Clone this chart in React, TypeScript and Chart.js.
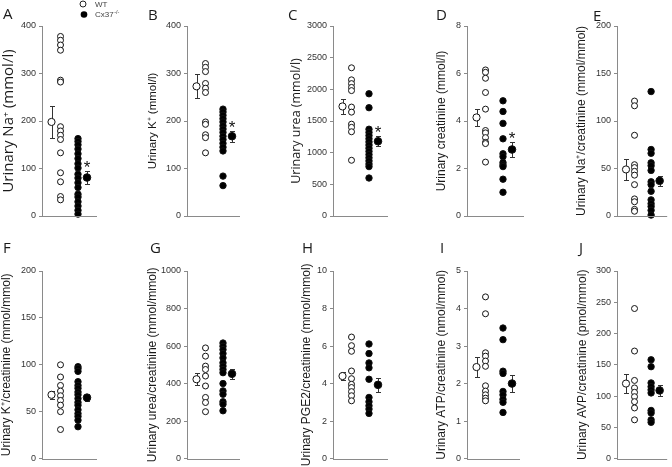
import React, { useEffect, useRef } from "react";
import { Chart, registerables } from "chart.js";
Chart.register(...registerables);

const W = 672;
const H = 467;

// ---------- data ----------
const panelLetters = ["A", "B", "C", "D", "E", "F", "G", "H", "I", "J"];
const yTitles = [
  "Urinary Na\u207A (mmol/l)",
  "Urinary K\u207A (mmol/l)",
  "Urinary urea (mmol/l)",
  "Urinary creatinine (mmol/l)",
  "Urinary Na\u207A/creatinine (mmol/mmol)",
  "Urinary K\u207A/creatinine (mmol/mmol)",
  "Urinary urea/creatinine (mmol/mmol)",
  "Urinary PGE2/creatinine (mmol/mmol)",
  "Urinary ATP/creatinine (nmol/mmol)",
  "Urinary AVP/creatinine (pmol/mmol)",
];
const yMax = [400, 400, 3000, 8, 200, 200, 1000, 10, 5, 300];
const yStep = [100, 100, 500, 2, 50, 50, 200, 2, 1, 50];
const significant = [true, true, true, true, false, false, false, false, false, false];
const legendLabels = ["WT", "Cx37"];

const wtA = [378, 370, 360, 349, 286, 282, 188, 179, 170, 161, 133, 91, 72, 41, 34];
const koA = [163, 157, 150, 141, 131, 121, 110, 101, 88, 80, 70, 60, 46, 40, 30, 21, 12, 4];
const meanA = [198, 81];
const semA = [33, 13];

const wtB = [321, 313, 304, 279, 269, 260, 198, 193, 171, 165, 133];
const koB = [225, 219, 212, 205, 198, 190, 183, 176, 168, 161, 153, 145, 137, 84, 64];
const meanB = [273, 168];
const semB = [25, 12];

const wtC = [2340, 2150, 2090, 2030, 1980, 1720, 1640, 1450, 1400, 1330, 880];
const koC = [1930, 1710, 1370, 1320, 1270, 1220, 1170, 1120, 1070, 1020, 970, 920, 870, 820, 780, 600];
const meanC = [1730, 1180];
const semC = [120, 80];

const wtD = [6.15, 6.05, 5.8, 5.2, 4.5, 3.6, 3.5, 3.3, 3.1, 3.05, 2.27];
const koD = [4.85, 4.4, 3.9, 3.25, 2.62, 2.5, 2.25, 2.15, 2.08, 1.55, 1.0];
const meanD = [4.15, 2.8];
const semD = [0.36, 0.3];

const wtE = [121, 116, 85, 54, 51, 47, 43, 33, 18, 15, 7, 5];
const koE = [131, 70, 66, 56, 53, 48, 36, 33, 26, 17, 13, 10, 6, 1];
const meanE = [49, 37];
const semE = [11.5, 5.5];

const wtF = [100, 87, 78, 72, 67, 62, 57, 50, 31];
const koF = [98, 96, 93, 82, 78, 75, 71, 68, 64, 60, 57, 52, 48, 45, 41, 34];
const meanF = [68, 65];
const semF = [4.5, 4];

const wtG = [590, 546, 493, 475, 440, 387, 326, 299, 250];
const koG = [616, 599, 581, 560, 537, 511, 493, 475, 458, 400, 361, 343, 303, 290, 255];
const meanG = [423, 452];
const semG = [33, 28];

const wtH = [6.48, 6.02, 5.72, 4.67, 4.26, 3.96, 3.79, 3.57, 3.35, 3.08];
const koH = [6.11, 5.6, 5.1, 4.84, 4.23, 3.26, 3.03, 2.82, 2.64, 2.41];
const meanH = [4.4, 3.93];
const semH = [0.2, 0.37];

const wtI = [4.31, 3.86, 2.82, 2.73, 2.6, 2.46, 1.94, 1.8, 1.7, 1.61, 1.54];
const koI = [3.48, 3.17, 2.33, 2.27, 1.79, 1.7, 1.58, 1.5, 1.23];
const meanI = [2.44, 2.0];
const semI = [0.26, 0.23];

const wtJ = [240, 172, 125, 113, 106, 99, 91, 81, 62];
const koJ = [158, 147, 121, 115, 110, 105, 77, 73, 62, 58];
const meanJ = [120, 109];
const semJ = [15, 9];

const groups = [
  { wt: wtA, ko: koA, mean: meanA, sem: semA },
  { wt: wtB, ko: koB, mean: meanB, sem: semB },
  { wt: wtC, ko: koC, mean: meanC, sem: semC },
  { wt: wtD, ko: koD, mean: meanD, sem: semD },
  { wt: wtE, ko: koE, mean: meanE, sem: semE },
  { wt: wtF, ko: koF, mean: meanF, sem: semF },
  { wt: wtG, ko: koG, mean: meanG, sem: semG },
  { wt: wtH, ko: koH, mean: meanH, sem: semH },
  { wt: wtI, ko: koI, mean: meanI, sem: semI },
  { wt: wtJ, ko: koJ, mean: meanJ, sem: semJ },
];

// ---------- layout ----------
const axisX = [42, 187, 333, 467, 617, 42, 187, 333, 467, 617];
const endX = [97, 240, 388, 524, 670, 97, 240, 388, 520, 670];
const areaTop = [26, 26, 26, 26, 26, 271, 271, 271, 271, 271];
const areaBottom = [216, 216, 216, 216, 216, 460, 460, 460, 460, 460];
const titleCenterX = [9, 153, 296, 442, 582, 7, 153, 307, 442, 583];
const titleFamily = ["'Open Sans'", "'Liberation Sans'", "'Open Sans'", "'Liberation Sans'", "'Liberation Sans'",
  "'Liberation Sans'", "'Liberation Sans'", "'Liberation Sans'", "'Liberation Sans'", "'Liberation Sans'"];
const titleSize = [15, 11.5, 12.5, 12, 12, 12, 12, 12, 12, 12];
const letterX = [3, 148, 288, 436, 593, 3, 150, 302, 440, 579];
const letterY = [19, 20, 20, 20, 21, 253, 253, 253, 253, 253];
// column positions in px from the y axis
const COL_MEAN_WT = 9.5;
const COL_WT = 18.5;
const COL_KO = 36;
const COL_MEAN_KO = 45;

const AXIS_COLOR = "#8a8a8a";

function placeColumn(values: number[], cx: number, pxPerUnit: number) {
  const placed: { x: number; y: number }[] = [];
  const order = values.map((_, i) => i).sort((a, b) => values[b] - values[a]);
  const res: { x: number; y: number }[] = new Array(values.length);
  for (const i of order) {
    const v = values[i];
    const cands = [0, 5.5, -5.5, 11, -11];
    let off = 0;
    for (const c of cands) {
      const ok = placed.every(
        (p) => Math.abs(p.x - c) >= 5 || Math.abs(p.y - v) * pxPerUnit >= 1.0
      );
      if (ok) {
        off = c;
        break;
      }
    }
    placed.push({ x: off, y: v });
    res[i] = { x: cx + off, y: v };
  }
  return res;
}

function Panel({ idx }: { idx: number }) {
  const ref = useRef<HTMLCanvasElement | null>(null);
  useEffect(() => {
    const canvas = ref.current;
    if (!canvas) return;
    const g = groups[idx];
    const top = areaTop[idx];
    const bottom = areaBottom[idx];
    const pxPerUnit = (bottom - top) / yMax[idx];
    const width = endX[idx] - axisX[idx];
    const lineH = titleSize[idx] * 1.2;

    const overlay = {
      id: "overlay" + idx,
      beforeDatasetsDraw(chart: any) {
        const ctx = chart.ctx;
        const xs = chart.scales.x;
        const ys = chart.scales.y;
        const cols = [COL_MEAN_WT, COL_MEAN_KO];
        ctx.save();
        ctx.strokeStyle = "#333";
        ctx.lineWidth = 1;
        for (let k = 0; k < 2; k++) {
          const x = Math.round(xs.getPixelForValue(cols[k])) + 0.5;
          const yu = Math.round(ys.getPixelForValue(g.mean[k] + g.sem[k])) + 0.5;
          const yl = Math.round(ys.getPixelForValue(g.mean[k] - g.sem[k])) + 0.5;
          ctx.beginPath();
          ctx.moveTo(x, yu);
          ctx.lineTo(x, yl);
          ctx.moveTo(x - 2.5, yu);
          ctx.lineTo(x + 2.5, yu);
          ctx.moveTo(x - 2.5, yl);
          ctx.lineTo(x + 2.5, yl);
          ctx.stroke();
        }
        ctx.restore();
      },
      afterDraw(chart: any) {
        const ctx = chart.ctx;
        const xs = chart.scales.x;
        const ys = chart.scales.y;
        const area = chart.chartArea;
        ctx.save();
        // x axis line
        ctx.strokeStyle = AXIS_COLOR;
        ctx.lineWidth = 1;
        const yb = Math.round(area.bottom) + 0.5;
        ctx.beginPath();
        ctx.moveTo(area.left, yb);
        ctx.lineTo(area.right, yb);
        ctx.stroke();
        // significance star
        if (significant[idx]) {
          const x = xs.getPixelForValue(COL_MEAN_KO);
          const yu = ys.getPixelForValue(g.mean[1] + g.sem[1]);
          ctx.fillStyle = "#111";
          ctx.font = "17px 'Liberation Sans'";
          ctx.textAlign = "center";
          ctx.textBaseline = "alphabetic";
          ctx.fillText("*", x, yu + 2);
        }
        // panel letter
        ctx.fillStyle = "#1a1a1a";
        ctx.font = "15px 'Open Sans'";
        ctx.textAlign = "left";
        ctx.textBaseline = "alphabetic";
        ctx.fillText(panelLetters[idx], letterX[idx], letterY[idx]);
        // legend on first panel
        if (idx === 0) {
          ctx.lineWidth = 1;
          ctx.strokeStyle = "#222";
          ctx.fillStyle = "#fff";
          ctx.beginPath();
          ctx.arc(83, 4, 3, 0, Math.PI * 2);
          ctx.fill();
          ctx.stroke();
          ctx.fillStyle = "#000";
          ctx.beginPath();
          ctx.arc(84, 14.5, 3.3, 0, Math.PI * 2);
          ctx.fill();
          ctx.fillStyle = "#444";
          ctx.font = "8px 'Liberation Sans'";
          ctx.textBaseline = "middle";
          ctx.fillText(legendLabels[0], 95, 4.5);
          ctx.fillText(legendLabels[1], 95, 15);
          const w = ctx.measureText(legendLabels[1]).width;
          ctx.font = "5.5px 'Liberation Sans'";
          ctx.fillText("-/-", 95 + w + 0.5, 12);
        }
        ctx.restore();
      },
    };

    const pt = (fill: string, r: number) => ({
      pointRadius: r,
      pointHoverRadius: r,
      pointBackgroundColor: fill,
      pointBorderColor: "#111",
      pointBorderWidth: 1,
      pointStyle: "circle",
      showLine: false,
      clip: false as any,
    });

    const chart = new Chart(canvas, {
      type: "scatter",
      data: {
        datasets: [
          { data: placeColumn(g.wt, COL_WT, pxPerUnit), ...pt("#ffffff", 3) },
          { data: placeColumn(g.ko, COL_KO, pxPerUnit), ...pt("#000000", 3.2) },
          { data: [{ x: COL_MEAN_WT, y: g.mean[0] }], ...pt("#ffffff", 3.6) },
          { data: [{ x: COL_MEAN_KO, y: g.mean[1] }], ...pt("#000000", 3.8) },
        ],
      },
      options: {
        animation: false,
        responsive: false,
        maintainAspectRatio: false,
        events: [],
        layout: {
          padding: { left: 0, top: top, right: W - endX[idx], bottom: H - bottom },
        },
        plugins: { legend: { display: false }, tooltip: { enabled: false }, title: { display: false } },
        scales: {
          x: { type: "linear", display: false, min: 0, max: width },
          y: {
            type: "linear",
            position: "left",
            min: 0,
            max: yMax[idx],
            afterFit: (s: any) => {
              s.width = axisX[idx];
            },
            ticks: {
              stepSize: yStep[idx],
              color: "#333",
              padding: 3,
              font: { family: "'Liberation Sans'", size: 9 },
              callback: (v: any) => String(v),
            },
            grid: { drawOnChartArea: false, drawTicks: true, tickLength: 3, color: AXIS_COLOR },
            border: { display: true, color: AXIS_COLOR, width: 1 },
            title: {
              display: true,
              text: yTitles[idx],
              color: "#1a1a1a",
              font: { family: titleFamily[idx], size: titleSize[idx] },
              padding: { top: titleCenterX[idx] - lineH / 2, bottom: 0 },
            },
          },
        },
      },
      plugins: [overlay],
    } as any);
    return () => chart.destroy();
  }, [idx]);
  return (
    <canvas
      ref={ref}
      width={W}
      height={H}
      style={{ position: "absolute", left: 0, top: 0, width: W, height: H, pointerEvents: "none" }}
    />
  );
}

export default function App() {
  return (
    <div style={{ position: "absolute", left: 0, top: 0, width: W, height: H, background: "#fff", overflow: "hidden" }}>
      {panelLetters.map((_, i) => (
        <Panel key={i} idx={i} />
      ))}
    </div>
  );
}
